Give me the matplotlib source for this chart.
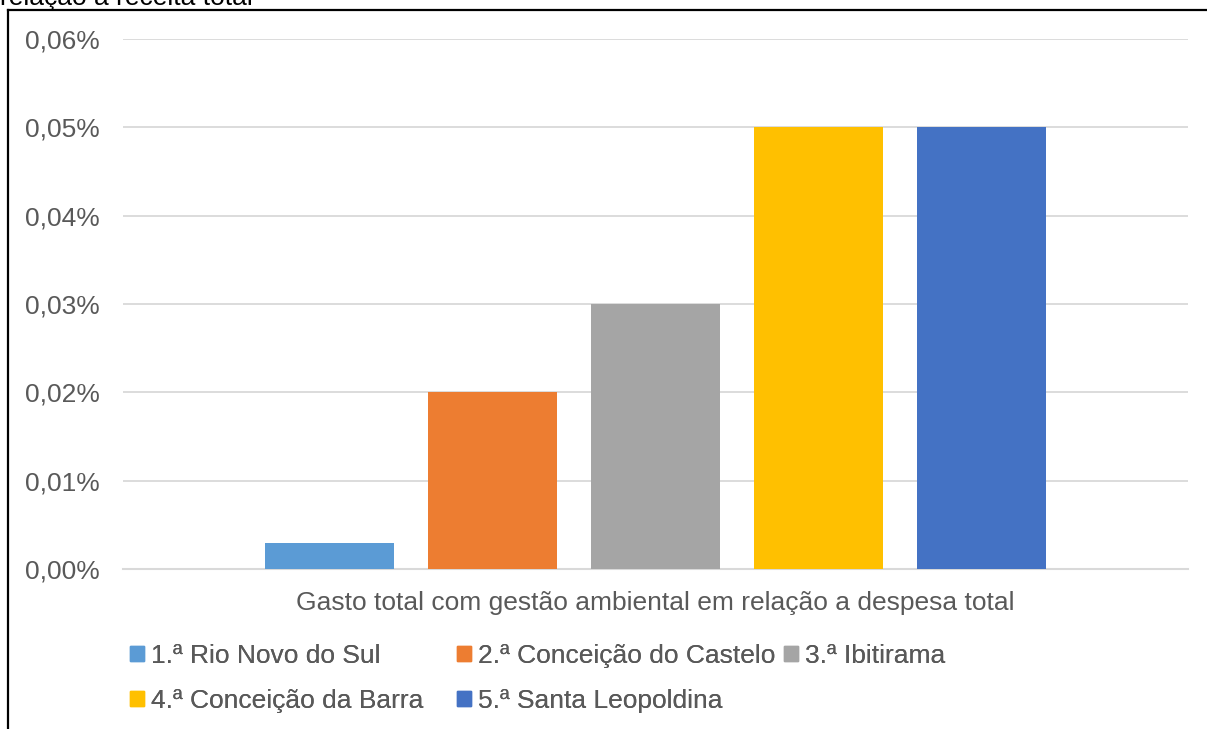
import matplotlib
matplotlib.use("Agg")
import matplotlib.pyplot as plt
from matplotlib.lines import Line2D
from matplotlib.patches import Patch
from matplotlib.ticker import FuncFormatter, MultipleLocator

# data
municipios = [
    "1.ª Rio Novo do Sul",
    "2.ª Conceição do Castelo",
    "3.ª Ibitirama",
    "4.ª Conceição da Barra",
    "5.ª Santa Leopoldina",
]
valores = [0.003, 0.02, 0.03, 0.05, 0.05]  # % da despesa total
cores = ["#5B9BD5", "#ED7D31", "#A5A5A5", "#FFC000", "#4472C4"]
categoria = "Gasto total com gestão ambiental em relação a despesa total"
titulo_cortado = "relação à receita total"

TXT = "#595959"
FS = 19
plt.rcParams["font.family"] = ["Liberation Sans", "DejaVu Sans"]

W, H = 1207, 729
fig = plt.figure(figsize=(W / 100, H / 100), dpi=100)
ax = fig.add_axes([123 / W, 1 - 569 / H, (1188 - 123) / W, (569 - 39) / H])

offsets = [i - (len(valores) - 1) / 2 for i in range(len(valores))]
for off, v, c, lab in zip(offsets, valores, cores, municipios):
    ax.bar(off, v, width=0.79, color=c, label=lab, zorder=3)

half = (1188 - 123) / 2 / 163
ax.set_xlim(-half, half)
ax.set_ylim(0, 0.06)
ax.yaxis.set_major_locator(MultipleLocator(0.01))
ax.yaxis.set_major_formatter(
    FuncFormatter(lambda v, _: f"{v:.2f}%".replace(".", ","))
)
ax.grid(axis="y", color="#D9D9D9", linewidth=1.3, zorder=0)
for s in ["top", "right", "left"]:
    ax.spines[s].set_visible(False)
ax.spines["bottom"].set_color("#D9D9D9")
ax.spines["bottom"].set_linewidth(1.5)
ax.tick_params(axis="y", length=0, pad=17, labelsize=FS, labelcolor=TXT)
ax.set_xticks([0])
ax.set_xticklabels([categoria])
ax.tick_params(axis="x", length=0, pad=16, labelsize=FS, labelcolor=TXT)

# legend: Excel puts entries in fixed-width slots, two rows
slots = [(130, 656), (457, 656), (784, 656), (130, 701), (457, 701)]
for (sx, sy), c, lab in zip(slots, cores, municipios):
    leg = fig.legend([Patch(color=c)], [lab], frameon=False, fontsize=FS,
                     labelcolor=TXT, handlelength=0.53, handleheight=0.53,
                     handletextpad=0.25, borderpad=0, borderaxespad=0,
                     loc="center left", bbox_to_anchor=(sx / W, 1 - sy / H))
    fig.add_artist(leg)

# frame of the pasted chart, cut at right and bottom
fig.add_artist(Line2D([8 / W, 8 / W], [0, 1 - 10 / H], transform=fig.transFigure,
                      color="black", linewidth=1.6))
fig.add_artist(Line2D([8 / W, 1], [1 - 10 / H, 1 - 10 / H], transform=fig.transFigure,
                      color="black", linewidth=1.6))
fig.text(0, 1 - 5 / H, titulo_cortado, fontsize=FS, color="black",
         ha="left", va="baseline")

fig.savefig("out.png", dpi=100)
